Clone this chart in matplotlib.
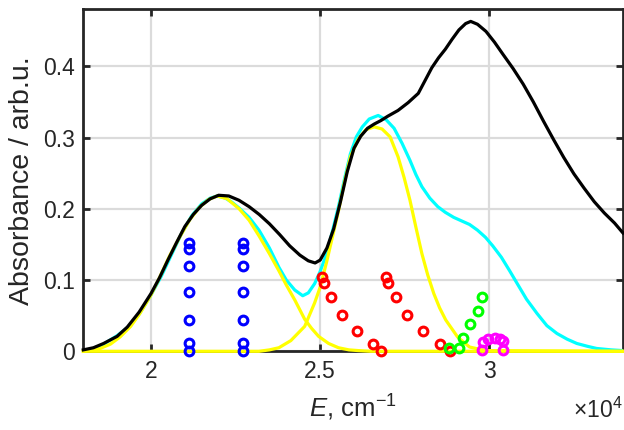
import matplotlib
matplotlib.use("Agg")
import matplotlib.pyplot as plt
import numpy as np

plt.rcParams['font.family'] = ['Liberation Sans', 'DejaVu Sans']
plt.rcParams['mathtext.fontset'] = 'custom'
plt.rcParams['mathtext.rm'] = 'Liberation Sans'
plt.rcParams['mathtext.it'] = 'Liberation Sans:italic'

# ---- data ----
black_x = [18000, 18300, 18600, 19000, 19300, 19650, 20000, 20250, 20500, 20750, 21000, 21250,
           21500, 21750, 22000, 22300, 22600, 22900, 23200, 23500, 23800, 24100, 24400, 24650,
           24850, 25000, 25200, 25400, 25600, 25800, 26000, 26200, 26400, 26600, 26800, 27000,
           27300, 27600, 27900, 28100, 28300, 28500, 28700, 28900, 29100, 29300, 29450, 29650,
           29900, 30150, 30400, 30700, 31000, 31300, 31600, 31900, 32200, 32500, 32800, 33100,
           33400, 33700, 33950]
black_y = [0.002, 0.005, 0.011, 0.021, 0.034, 0.055, 0.081, 0.103, 0.128, 0.152, 0.175, 0.192,
           0.205, 0.214, 0.219, 0.218, 0.212, 0.203, 0.192, 0.179, 0.164, 0.148, 0.135, 0.127,
           0.124, 0.128, 0.145, 0.172, 0.210, 0.252, 0.285, 0.302, 0.313, 0.319, 0.324, 0.330,
           0.338, 0.349, 0.362, 0.380, 0.398, 0.412, 0.424, 0.438, 0.451, 0.460, 0.463, 0.459,
           0.449, 0.434, 0.417, 0.397, 0.375, 0.350, 0.323, 0.297, 0.272, 0.249, 0.229, 0.210,
           0.194, 0.180, 0.166]

cyan_x = [18000, 18300, 18600, 19000, 19300, 19650, 20000, 20300, 20600, 20900, 21200, 21500,
          21750, 21960, 22200, 22400, 22606, 22900, 23193, 23500, 23780, 24000, 24250, 24485,
          24650, 24837, 25000, 25189, 25360, 25541, 25720, 25893, 26070, 26246, 26450, 26715,
          26950, 27185, 27420, 27654, 27830, 28007, 28240, 28476, 28700, 28946, 29180, 29415,
          29650, 29885, 30100, 30355, 30600, 30824, 31100, 31411, 31700, 31998, 32300, 32585,
          32900, 33170, 33600, 33950]
cyan_y = [0.000, 0.004, 0.010, 0.022, 0.033, 0.052, 0.079, 0.105, 0.135, 0.165, 0.190, 0.207,
          0.215, 0.218, 0.215, 0.209, 0.201, 0.188, 0.170, 0.145, 0.118, 0.100, 0.086, 0.078,
          0.082, 0.095, 0.112, 0.137, 0.168, 0.203, 0.242, 0.277, 0.301, 0.315, 0.326, 0.331,
          0.325, 0.313, 0.292, 0.268, 0.248, 0.231, 0.215, 0.203, 0.195, 0.188, 0.183, 0.178,
          0.170, 0.160, 0.148, 0.132, 0.113, 0.095, 0.073, 0.053, 0.036, 0.025, 0.017, 0.011,
          0.007, 0.004, 0.002, 0.001]

yellow1_x = [18000, 18497, 18800, 19084, 19400, 19671, 20000, 20258, 20550, 20845, 21150, 21432,
             21700, 21960, 22250, 22606, 22900, 23193, 23500, 23780, 24000, 24250, 24543, 24750,
             24954, 25250, 25541, 25850, 26128, 26500, 33950]
yellow1_y = [0.000, 0.004, 0.010, 0.020, 0.035, 0.053, 0.079, 0.104, 0.134, 0.160, 0.185, 0.202,
             0.213, 0.218, 0.214, 0.200, 0.184, 0.162, 0.137, 0.113, 0.093, 0.072, 0.045, 0.032,
             0.021, 0.011, 0.005, 0.002, 0.001, 0.000, 0.000]

yellow2_x = [18000, 23193, 23500, 23780, 24133, 24543, 24837, 25000, 25189, 25360, 25541, 25720,
             25893, 26128, 26350, 26598, 26830, 27067, 27302, 27480, 27654, 27830, 28007, 28180,
             28359, 28530, 28711, 29063, 29415, 29885, 33950]
yellow2_y = [0.000, 0.000, 0.002, 0.005, 0.015, 0.035, 0.068, 0.090, 0.125, 0.160, 0.197, 0.238,
             0.273, 0.298, 0.311, 0.315, 0.312, 0.301, 0.273, 0.244, 0.212, 0.174, 0.137, 0.107,
             0.081, 0.061, 0.044, 0.020, 0.006, 0.001, 0.000]

blue_x = [21133, 22731]
blue_y = [0.152, 0.144, 0.120, 0.083, 0.044, 0.012, 0.000]

red1_x = [25047, 25107, 25325, 25651, 26083, 26556, 26805]
red2_x = [26932, 27000, 27228, 27562, 28036, 28545, 28826]
red_y = [0.1038, 0.0954, 0.0757, 0.0509, 0.0285, 0.0102, 0.0008]

green_x = [28805, 29110, 29220, 29417, 29663, 29781]
green_y = [0.004, 0.0045, 0.0185, 0.038, 0.0565, 0.0757]

magenta_x = [29793, 29811, 29959, 30157, 30325, 30402, 30402]
magenta_y = [0.002, 0.0135, 0.017, 0.018, 0.017, 0.0145, 0.002]

xticks = [20000, 25000, 30000]
xticklabels = ['2', '2.5', '3']
yticks = [0, 0.1, 0.2, 0.3, 0.4]
yticklabels = ['0', '0.1', '0.2', '0.3', '0.4']

# ---- figure ----
fig = plt.figure(figsize=(6.24, 4.30), dpi=100)
ax = fig.add_axes([83.3 / 624, (430 - 351.3) / 430, (623 - 83.3) / 624, (351.3 - 9.3) / 430])

lw = 2.3
ax.plot(cyan_x, cyan_y, color='#00FFFF', lw=lw, zorder=2.6)
ax.plot(yellow1_x, yellow1_y, color='#FFFF00', lw=lw, zorder=2.7, clip_on=False)
ax.plot(yellow2_x, yellow2_y, color='#FFFF00', lw=lw, zorder=2.7, clip_on=False)
ax.plot(black_x, black_y, color='k', lw=lw, zorder=2.8, clip_on=False)

mk = dict(marker='o', ls='none', ms=6.3, mew=2.2, mfc='none', zorder=4, clip_on=False)
for bx in blue_x:
    ax.plot([bx] * len(blue_y), blue_y, mec='#0000FF', **mk)
ax.plot(red1_x, red_y, mec='#FF0000', **mk)
ax.plot(red2_x, red_y, mec='#FF0000', **mk)
ax.plot(green_x, green_y, mec='#00FF00', **mk)
ax.plot(magenta_x, magenta_y, mec='#FF00FF', **mk)

ax.set_xlim(18000, 33950)
ax.set_ylim(0, 0.48)
ax.set_xticks(xticks)
ax.set_xticklabels(xticklabels)
ax.set_yticks(yticks)
ax.set_yticklabels(yticklabels)

ax.grid(True, color='#DBDBDB', lw=1.6)
ax.set_axisbelow(True)
for s in ax.spines.values():
    s.set_linewidth(2.0)
    s.set_color('#262626')
ax.tick_params(direction='in', length=5, width=2.0, color='#262626', labelcolor='#262626',
               labelsize=16.5, top=True, right=True, pad=6)

ax.set_xlabel(r'$E$, cm$^{-1}$', fontsize=18.5, color='#262626', labelpad=7)
ax.set_ylabel('Absorbance / arb.u.', fontsize=20.5, color='#262626', labelpad=6)
ax.text(1.0, -0.195, r'$\times10^{4}$', transform=ax.transAxes, ha='right', va='baseline',
        fontsize=16.5, color='#262626')

fig.savefig('out.png', dpi=100)
